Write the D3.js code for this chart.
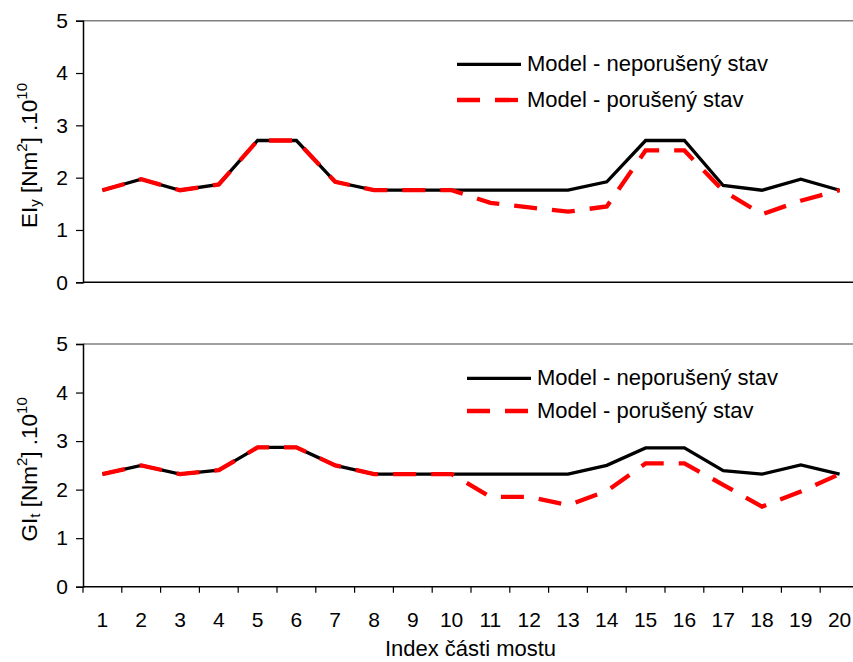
<!DOCTYPE html>
<html>
<head>
<meta charset="utf-8">
<script src="https://cdn.jsdelivr.net/npm/d3@7"></script>
<style>
  html, body { margin: 0; padding: 0; background: #fff; }
  svg { display: block; font-family: "Liberation Sans", Arial, sans-serif; }
</style>
</head>
<body>
<svg id="chart" width="853" height="662"></svg>
<script>
// Bridge segment indices
const segments = d3.range(1, 21);

// Bending stiffness EI_y [Nm^2] x 10^10
const eiIntact  = [1.76, 1.97, 1.76, 1.87, 2.71, 2.71, 1.92, 1.76, 1.76, 1.76,
                   1.76, 1.76, 1.76, 1.92, 2.71, 2.71, 1.85, 1.76, 1.97, 1.76];
const eiDamaged = [1.76, 1.97, 1.76, 1.87, 2.71, 2.71, 1.92, 1.76, 1.76, 1.76,
                   1.52, 1.43, 1.35, 1.45, 2.52, 2.52, 1.75, 1.30, 1.56, 1.76];

// Torsional stiffness GI_t [Nm^2] x 10^10
const gtIntact  = [2.32, 2.50, 2.32, 2.40, 2.87, 2.87, 2.50, 2.32, 2.32, 2.32,
                   2.32, 2.32, 2.32, 2.50, 2.86, 2.86, 2.39, 2.32, 2.51, 2.32];
const gtDamaged = [2.32, 2.50, 2.32, 2.40, 2.87, 2.87, 2.50, 2.32, 2.32, 2.32,
                   1.85, 1.85, 1.68, 1.97, 2.54, 2.54, 2.10, 1.65, 1.96, 2.32];

const yTicks = [0, 1, 2, 3, 4, 5];
const legendLabels = ["Model - neporušený stav", "Model - porušený stav"];
const xTitle = "Index části mostu";

const svg = d3.select("#chart");
const left = 83, right = 859;

const x = d3.scaleBand().domain(segments).range([left, right]).paddingInner(0).paddingOuter(0);
const cx = d => x(d) + x.bandwidth() / 2;

function panel(cfg) {
  const y = d3.scaleLinear().domain([0, 5]).range([cfg.bottom, cfg.top]);
  const g = svg.append("g");

  // top frame line
  g.append("line")
    .attr("x1", left).attr("x2", 853)
    .attr("y1", cfg.top).attr("y2", cfg.top)
    .attr("stroke", "#808080").attr("stroke-width", 1.5);

  // y axis
  const ya = g.append("g").attr("transform", `translate(${left},0)`)
    .call(d3.axisLeft(y).tickValues(yTicks).tickSize(7).tickPadding(8).tickFormat(d3.format("d")));
  ya.select(".domain").attr("stroke", "#000").attr("stroke-width", 1.5);
  ya.selectAll(".tick line").attr("stroke", "#000").attr("stroke-width", 1.2);
  ya.selectAll(".tick text").attr("font-size", 21).attr("fill", "#000")
    .attr("font-family", "Liberation Sans, Arial, sans-serif");

  // x axis
  const xa = g.append("g").attr("transform", `translate(0,${cfg.bottom})`);
  xa.append("line").attr("x1", left).attr("x2", 853).attr("y1", 0).attr("y2", 0)
    .attr("stroke", "#000").attr("stroke-width", 1.5);
  if (cfg.showX) {
    const bounds = segments.map(d => x(d)).concat([x(20) + x.bandwidth()]);
    xa.selectAll("line.tk").data(bounds).join("line").attr("class", "tk")
      .attr("x1", d => d).attr("x2", d => d).attr("y1", 0).attr("y2", 6)
      .attr("stroke", "#000").attr("stroke-width", 1.2);
    xa.selectAll("text").data(segments).join("text")
      .attr("x", d => cx(d)).attr("y", 40)
      .attr("text-anchor", "middle").attr("font-size", 21).attr("fill", "#000")
      .text(d => d);
  }

  const line = d3.line().x((d, i) => cx(segments[i])).y(d => y(d));

  g.append("path").datum(cfg.intact).attr("d", line)
    .attr("fill", "none").attr("stroke", "#000").attr("stroke-width", 3.3)
    .attr("stroke-linejoin", "miter");
  g.append("path").datum(cfg.damaged).attr("d", line)
    .attr("fill", "none").attr("stroke", "#ff0000").attr("stroke-width", 4.3)
    .attr("stroke-dasharray", "23,15");

  // legend
  const lg = g.append("g");
  lg.append("line").attr("x1", cfg.lx).attr("x2", cfg.lx + 64)
    .attr("y1", cfg.ly1).attr("y2", cfg.ly1).attr("stroke", "#000").attr("stroke-width", 3.3);
  lg.append("line").attr("x1", cfg.lx).attr("x2", cfg.lx + 64)
    .attr("y1", cfg.ly2).attr("y2", cfg.ly2).attr("stroke", "#ff0000").attr("stroke-width", 4.3)
    .attr("stroke-dasharray", "23,15");
  lg.append("text").attr("x", cfg.lx + 70).attr("y", cfg.ly1 + 6.5)
    .attr("font-size", 22).attr("fill", "#000").text(legendLabels[0]);
  lg.append("text").attr("x", cfg.lx + 70).attr("y", cfg.ly2 + 6.5)
    .attr("font-size", 22).attr("fill", "#000").text(legendLabels[1]);

  // y title
  const t = g.append("text")
    .attr("transform", `translate(37,${(cfg.top + cfg.bottom) / 2 + 4}) rotate(-90)`)
    .attr("text-anchor", "middle").attr("font-size", 22.5).attr("fill", "#000");
  t.append("tspan").text(cfg.sym);
  t.append("tspan").attr("font-size", 15).attr("dy", 3).text(cfg.sub);
  t.append("tspan").attr("dy", -3).text(" [Nm");
  t.append("tspan").attr("font-size", 15).attr("dy", -10).text("2");
  t.append("tspan").attr("dy", 10).text("] .10");
  t.append("tspan").attr("font-size", 15).attr("dy", -10).text("10");
}

panel({ top: 20.7, bottom: 282.3, intact: eiIntact, damaged: eiDamaged,
        showX: false, lx: 457, ly1: 64.3, ly2: 100, sym: "EI", sub: "y" });
panel({ top: 344, bottom: 586.7, intact: gtIntact, damaged: gtDamaged,
        showX: true, lx: 467, ly1: 378.3, ly2: 411, sym: "GI", sub: "t" });

svg.append("text").attr("x", 470.5).attr("y", 656)
  .attr("text-anchor", "middle").attr("font-size", 22).attr("fill", "#000")
  .text(xTitle);
</script>
</body>
</html>
